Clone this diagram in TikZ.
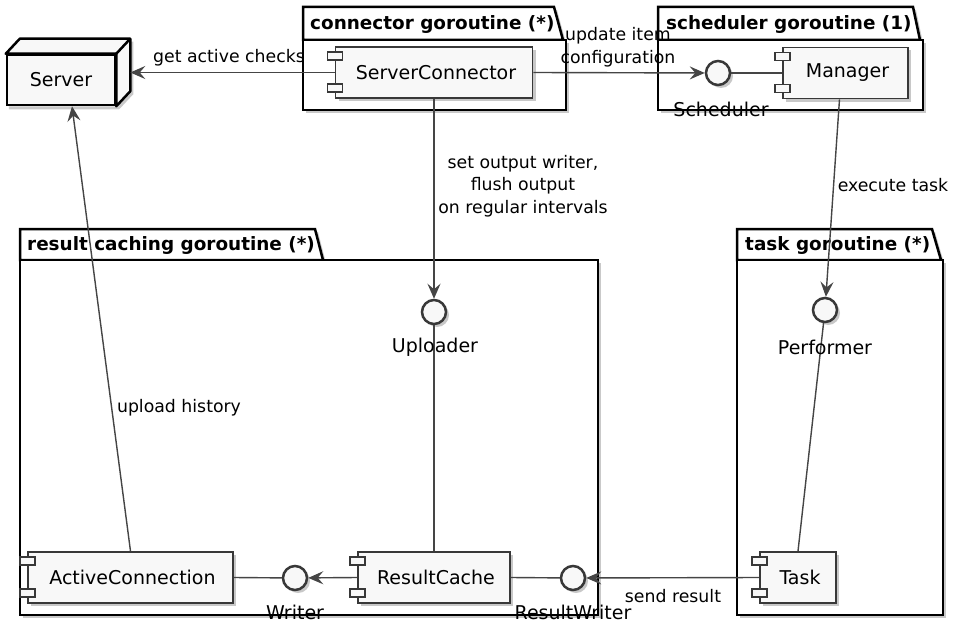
\documentclass[tikz,border=0pt]{standalone}
\usepackage{fontspec}
\setmainfont{DejaVu Sans}
\usetikzlibrary{shadows,arrows.meta,calc}
\definecolor{linec}{HTML}{454545}
\definecolor{bord}{HTML}{383838}
\definecolor{fillc}{HTML}{F8F8F8}
\pgfdeclarelayer{bg}
\pgfsetlayers{bg,main}
\tikzset{
 shd/.style={drop shadow={shadow xshift=3pt,shadow yshift=-3pt,opacity=0.3,fill=black!70}},
 comp/.style={draw=bord, line width=1.7pt, fill=fillc, shd, minimum height=51pt, inner sep=0pt, font=\fontsize{19}{22}\selectfont},
 port/.style={draw=bord, line width=1.5pt, fill=fillc},
 iface/.style={circle, draw=bord, line width=2.5pt, fill=fillc, shd, minimum size=24pt, inner sep=0pt},
 pkg/.style={draw=black, line width=2.5pt, fill=white, shd},
 pkgtitle/.style={font=\bfseries\fontsize{18.4}{22}\selectfont, anchor=west, inner sep=0pt},
 lbl/.style={font=\fontsize{17.3}{22.5}\selectfont, inner sep=0pt, align=center},
 ilbl/.style={font=\fontsize{19}{22}\selectfont, inner sep=0pt},
 arr/.style={draw=linec, line width=1.4pt, -{Stealth[length=15pt,width=13pt,inset=5.5pt]}},
 ln/.style={draw=linec, line width=1.4pt},
 srvbox/.style={draw=black, line width=2.5pt, fill=fillc, minimum width=108pt, minimum height=50pt, inner sep=0pt, font=\fontsize{19}{22}\selectfont},
}
\newcommand{\ports}[1]{%
 \draw[port] ([shift={(-7,6)}]#1.north west) rectangle ([shift={(8,14)}]#1.north west);
 \draw[port] ([shift={(-7,-15)}]#1.south west) rectangle ([shift={(8,-7)}]#1.south west);
}
\begin{document}
\begin{tikzpicture}[x=1pt,y=-1pt]
\useasboundingbox (0,0) rectangle (953,626);

% packages
\draw[pkg] (303,40) -- (303,7) -- (554,7) -- (563,40) -- cycle;
\draw[pkg] (303,40) rectangle (566,110);
\node[pkgtitle] (tconn) at (310,24) {connector goroutine (*)};

\draw[pkg] (658,40) -- (658,7) -- (913,7) -- (920,40) -- cycle;
\draw[pkg] (658,40) rectangle (923,110);
\node[pkgtitle] (tsched) at (666,24) {scheduler goroutine (1)};

\draw[pkg] (20,260) -- (20,229) -- (315,229) -- (323,260) -- cycle;
\draw[pkg] (20,260) rectangle (598,615);
\node[pkgtitle] (tres) at (27,245) {result caching goroutine (*)};

\draw[pkg] (737,260) -- (737,229) -- (932,229) -- (941,260) -- cycle;
\draw[pkg] (737,260) rectangle (943,615);
\node[pkgtitle] (ttask) at (745,245) {task goroutine (*)};

% server node (3D box)
\node[srvbox] (srv) at (61,80) {Server};
\begin{pgfonlayer}{bg}
\path[shd, fill=fillc] (srv.north west) -- ([shift={(14,-15)}]srv.north west) -- ([shift={(14,-15)}]srv.north east) -- ([shift={(14,-15)}]srv.south east) -- (srv.south east) -- (srv.south west) -- cycle;
\end{pgfonlayer}
\draw[black, line width=2.5pt, fill=fillc, line join=round] (srv.north west) -- ([shift={(14,-15)}]srv.north west) -- ([shift={(14,-15)}]srv.north east) -- ([shift={(14,-15)}]srv.south east) -- (srv.south east) -- (srv.north east) -- cycle;
\draw[black, line width=2.5pt] (srv.north east) -- ([shift={(14,-15)}]srv.north east);
\coordinate (srvside) at ([xshift=14pt]srv.east);

% components
\node[comp, minimum width=197pt] (sc) at (434,72.5) {\hspace*{4pt}ServerConnector};
\ports{sc}
\node[comp, minimum width=125pt] (man) at (845.5,73) {\hspace*{4pt}Manager};
\ports{man}
\node[comp, minimum width=205pt] (ac) at (130.5,577.5) {\hspace*{4pt}ActiveConnection};
\ports{ac}
\node[comp, minimum width=152pt] (rc) at (434,577.5) {\hspace*{4pt}ResultCache};
\ports{rc}
\node[comp, minimum width=76pt] (task) at (798,577.5) {\hspace*{4pt}Task};
\ports{task}

% interfaces
\node[iface] (sched) at (718,73) {};
\node[iface] (upl) at (434,312) {};
\node[iface] (perf) at (825,310) {};
\node[iface] (wri) at (295,578) {};
\node[iface] (rw) at (573,578) {};

% connectors
\draw[arr] (sc.west) -- (sc.west -| srvside);
\draw[arr] (sc.east) -- (sched);
\draw[ln] (sched) -- (man.west);
\draw[arr] (sc.south) -- (upl);
\draw[ln] (upl) -- (rc.north);
\draw[arr] ([xshift=-6pt]man.south) -- (perf);
\draw[ln] (perf) -- (task.north);
\draw[arr] (task.west) -- (rw);
\draw[ln] (rc.east) -- (rw);
\draw[arr] (rc.west) -- (wri);
\draw[ln] (ac.east) -- (wri);
\draw[arr] (ac.north) -- ([xshift=11pt]srv.south);

% interface labels
\node[ilbl] (lsched) at (721,109) {Scheduler};
\node[ilbl] (lupl) at (435,347) {Uploader};
\node[ilbl] (lperf) at (825,347) {Performer};
\node[ilbl] (lwri) at (295,612) {Writer};
\node[ilbl] (lrw) at (573,612) {ResultWriter};

% connector labels
\node[lbl] (l1) at (229,58) {get active checks};
\node[lbl] (l2) at (618,47) {update item\\configuration};
\node[lbl] (l3) at (523,186) {set output writer,\\flush output\\on regular intervals};
\node[lbl] (l4) at (893,185) {execute task};
\node[lbl] (l5) at (179,408) {upload history};
\node[lbl] (l6) at (673,596) {send result};
\end{tikzpicture}
\end{document}
